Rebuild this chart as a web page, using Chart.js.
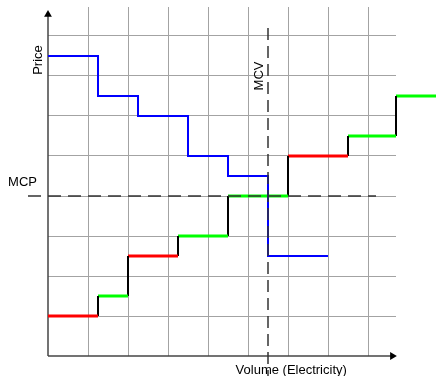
<!DOCTYPE html>
<html>
<head>
<meta charset="utf-8">
<title>Market clearing</title>
<script src="https://cdn.jsdelivr.net/npm/chart.js@4.4.0/dist/chart.umd.min.js"></script>
<style>
  html, body { margin: 0; padding: 0; background: #fff; }
</style>
</head>
<body>
<canvas id="marketChart" width="437" height="376"></canvas>
<script>
'use strict';

//Demand bids (blue) - each point starts a new price level
let demandVolume = [0, 1.25, 2.25, 3.5, 4.5, 5.5, 7];
let demandPrice = [7.5, 6.5, 6, 5, 4.5, 2.5, 2.5];

//Supply offers - volume boundaries of each block, then one price per block
let supplyVolume = [0, 1.25, 2, 3.25, 4.5, 6, 7.5, 8.7, 9.7];
let supplyPrice = [1, 1.5, 2.5, 3, 4, 5, 5.5, 6.5];
let supplyColors = ['#ff0000', '#00ff00', '#ff0000', '#00ff00', '#00ff00', '#ff0000', '#00ff00', '#00ff00'];

//Where the two curves cross
let clearingPrice = 4;
let clearingVolume = 5.5;

//Extent of the axes and the dashed guide lines
const axisTopY = 8.54;
const axisEndX = 8.61;
const guideStart = -0.5;
const guideEnd = 8.2;

function buildDemandPoints() {
  let points = [];
  for (let i = 0; i < demandVolume.length; i++) {
    points.push({ x: demandVolume[i], y: demandPrice[i] });
  }
  return points;
}

//Flat piece for every block, riser between them.
//Listed right to left: in rising x order Chart.js drops the block past the x max.
function buildSupplyPoints() {
  let points = [];
  for (let i = supplyPrice.length - 1; i >= 0; i--) {
    points.push({ x: supplyVolume[i + 1], y: supplyPrice[i] });
    points.push({ x: supplyVolume[i], y: supplyPrice[i] });
  }
  return points;
}

function isFlat(segCtx) {
  return segCtx.p0DataIndex % 2 === 0;
}

function blockColor(segCtx) {
  return supplyColors[supplyPrice.length - 1 - segCtx.p0DataIndex / 2];
}

function gridColor(ctx) {
  // axis itself is drawn as a dataset with an arrow
  return ctx.tick && ctx.tick.value === 0 ? 'rgba(0,0,0,0)' : '#a3a3a3';
}

const labelPlugin = {
  id: 'marketLabels',
  afterDatasetsDraw(chart) {
    const ctx = chart.ctx;
    const x = chart.scales.x;
    const y = chart.scales.y;
    const x0 = x.getPixelForValue(0);
    const y0 = y.getPixelForValue(0);
    ctx.save();
    ctx.font = '13px "Liberation Sans", Arial, sans-serif';
    ctx.fillStyle = '#000';
    ctx.textBaseline = 'middle';

    ctx.save();
    ctx.translate(x0 - 10, y.getPixelForValue(7.4));
    ctx.rotate(-Math.PI / 2);
    ctx.textAlign = 'center';
    ctx.fillText('Price', 0, 0);
    ctx.restore();

    ctx.save();
    ctx.translate(x.getPixelForValue(clearingVolume) - 9, y.getPixelForValue(7.0));
    ctx.rotate(-Math.PI / 2);
    ctx.textAlign = 'center';
    ctx.fillText('MCV', 0, 0);
    ctx.restore();

    ctx.textAlign = 'right';
    ctx.fillText('MCP', x0 - 11, y.getPixelForValue(clearingPrice) - 14);

    ctx.textAlign = 'center';
    ctx.fillText('Volume (Electricity)', x.getPixelForValue(6.08), y0 + 14);
    ctx.restore();
  }
};

const chartCtx = document.getElementById('marketChart').getContext('2d');

new Chart(chartCtx, {
  type: 'scatter',
  data: {
    datasets: [
      {
        label: 'MCP',
        data: [{ x: guideStart, y: clearingPrice }, { x: guideEnd, y: clearingPrice }],
        showLine: true,
        borderColor: '#333',
        borderWidth: 1.5,
        borderDash: [13, 7],
        pointRadius: 0,
        clip: false,
        order: 0
      },
      {
        label: 'MCV',
        data: [{ x: clearingVolume, y: guideEnd }, { x: clearingVolume, y: guideStart }],
        showLine: true,
        borderColor: '#333',
        borderWidth: 1.5,
        borderDash: [12, 6],
        pointRadius: 0,
        clip: false,
        order: 0
      },
      {
        label: 'Demand',
        data: buildDemandPoints(),
        showLine: true,
        stepped: true,
        borderColor: '#0000ff',
        borderWidth: 2,
        pointRadius: 0,
        clip: false,
        order: 1
      },
      {
        label: 'Supply',
        data: buildSupplyPoints(),
        showLine: true,
        borderColor: '#000',
        borderWidth: 2,
        pointRadius: 0,
        clip: false,
        segment: {
          borderColor: segCtx => isFlat(segCtx) ? blockColor(segCtx) : '#000',
          borderWidth: segCtx => isFlat(segCtx) ? 3 : 2
        },
        order: 2
      },
      {
        label: 'Price axis',
        data: [{ x: 0, y: 0 }, { x: 0, y: axisTopY }],
        showLine: true,
        borderColor: '#444',
        borderWidth: 1.5,
        pointRadius: [0, 4.5],
        pointStyle: 'triangle',
        pointBackgroundColor: '#000',
        pointBorderWidth: 0,
        clip: false,
        order: 3
      },
      {
        label: 'Volume axis',
        data: [{ x: 0, y: 0 }, { x: axisEndX, y: 0 }],
        showLine: true,
        borderColor: '#444',
        borderWidth: 1.5,
        pointRadius: [0, 4.5],
        pointStyle: 'triangle',
        pointRotation: 90,
        pointBackgroundColor: '#000',
        pointBorderWidth: 0,
        clip: false,
        order: 3
      }
    ]
  },
  options: {
    responsive: false,
    animation: false,
    events: [],
    layout: { padding: { left: 48, right: 41, top: 7, bottom: 20 } },
    plugins: {
      legend: { display: false },
      tooltip: { enabled: false }
    },
    scales: {
      x: {
        type: 'linear',
        min: 0,
        max: 8.7,
        afterFit: scale => { scale.height = 0; },
        ticks: { display: false, stepSize: 1, includeBounds: false },
        grid: { color: gridColor, drawTicks: false, lineWidth: 1 },
        border: { display: false }
      },
      y: {
        type: 'linear',
        min: 0,
        max: 8.725,
        afterFit: scale => { scale.width = 0; },
        ticks: { display: false, stepSize: 1, includeBounds: false },
        grid: { color: gridColor, drawTicks: false, lineWidth: 1 },
        border: { display: false }
      }
    }
  },
  plugins: [labelPlugin]
});
</script>
</body>
</html>
